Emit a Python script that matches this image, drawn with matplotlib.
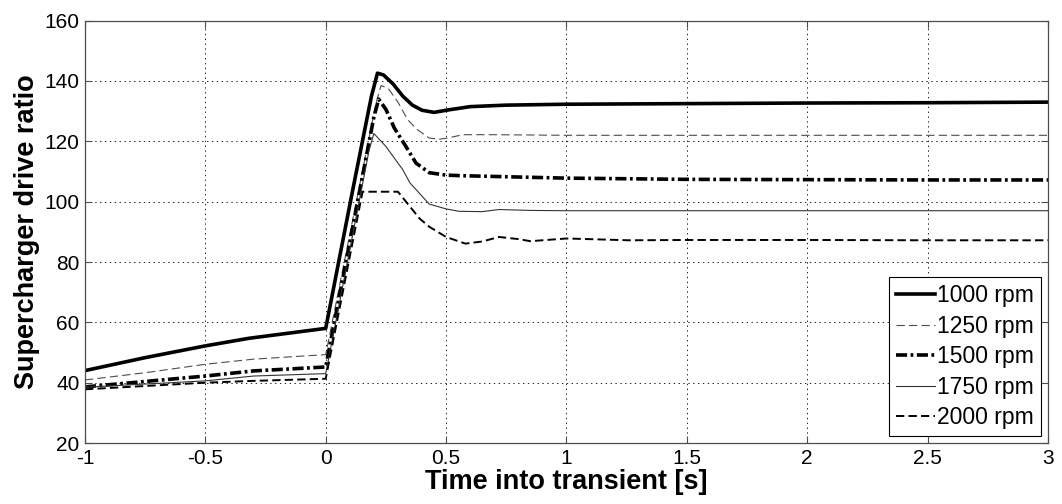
import matplotlib
matplotlib.use('Agg')
import matplotlib.pyplot as plt

# fonts: arial-like, keep plain hyphen minus on the ticks
matplotlib.rcParams['font.family'] = ['Liberation Sans', 'DejaVu Sans']
matplotlib.rcParams['axes.unicode_minus'] = False
matplotlib.rcParams['lines.scale_dashes'] = False

# data (time [s], drive ratio)
t_1000 = [-1, -0.75, -0.5, -0.32, 0, 0.11, 0.19, 0.215, 0.24, 0.28, 0.32, 0.36, 0.4, 0.45, 0.5, 0.6, 0.75, 1.0, 1.5, 2.0, 2.5, 3.0]
r_1000 = [44, 48.3, 52.2, 54.7, 58.0, 103, 135, 142.6, 142, 139, 135, 132, 130.3, 129.6, 130.3, 131.5, 132, 132.3, 132.5, 132.7, 132.8, 133]

t_1250 = [-1, -0.75, -0.5, -0.3, 0, 0.21, 0.23, 0.26, 0.3, 0.34, 0.38, 0.43, 0.47, 0.5, 0.57, 0.7, 1, 1.5, 2, 2.5, 3]
r_1250 = [40.9, 43.3, 46.1, 47.8, 49.3, 133, 138.5, 137.5, 133, 127.2, 123.9, 121.1, 120.7, 121, 122.2, 122.2, 122, 122, 122, 122, 122]

t_1500 = [-1, -0.5, -0.3, 0, 0.2, 0.22, 0.25, 0.285, 0.333, 0.375, 0.43, 0.5, 0.57, 1, 1.5, 2, 2.5, 3]
r_1500 = [38.6, 42.2, 43.9, 45.2, 128, 134, 130.6, 124.4, 118.3, 112.8, 109.6, 108.8, 108.6, 107.8, 107.4, 107.3, 107.2, 107.2]

t_1750 = [-1, -0.5, -0.3, 0, 0.18, 0.2, 0.25, 0.32, 0.35, 0.43, 0.5, 0.555, 0.65, 0.72, 0.85, 1, 1.5, 2, 2.5, 3]
r_1750 = [38.5, 40.6, 42.2, 43, 117, 122.6, 118.3, 110.6, 106.2, 99.2, 97.6, 96.8, 96.7, 97.4, 97.1, 97, 97, 97, 97, 97]

t_2000 = [-1, -0.5, -0.3, 0, 0.153, 0.3, 0.39, 0.43, 0.5, 0.58, 0.65, 0.72, 0.8, 0.85, 1.0, 1.26, 1.5, 2, 2.5, 3]
r_2000 = [37.8, 40.0, 40.6, 41.3, 103.3, 103.3, 94.4, 91.7, 88.3, 86.1, 86.8, 88.3, 87.6, 86.9, 87.8, 87.2, 87.3, 87.3, 87.2, 87.2]

labels = ['1000 rpm', '1250 rpm', '1500 rpm', '1750 rpm', '2000 rpm']
x_ticks = [-1, -0.5, 0, 0.5, 1, 1.5, 2, 2.5, 3]
x_tick_labels = ['-1', '-0.5', '0', '0.5', '1', '1.5', '2', '2.5', '3']
y_ticks = [20, 40, 60, 80, 100, 120, 140, 160]

fig = plt.figure(figsize=(10.62, 5.04), dpi=100)
ax = fig.add_axes([0.080, 0.121, 0.9068, 0.838])

ax.plot(t_1000, r_1000, color='black', lw=2.6, label=labels[0])
ax.plot(t_1250, r_1250, color='0.3', lw=0.8, dashes=(6, 3), label=labels[1])
ax.plot(t_1500, r_1500, color='black', lw=2.6, dashes=(8, 2.5, 2, 2.5), label=labels[2])
ax.plot(t_1750, r_1750, color='0.2', lw=0.8, label=labels[3])
ax.plot(t_2000, r_2000, color='black', lw=1.4, dashes=(6, 3), label=labels[4])

ax.set_xlim(-1, 3)
ax.set_ylim(20, 160)
ax.set_xticks(x_ticks)
ax.set_xticklabels(x_tick_labels)
ax.set_yticks(y_ticks)

# matlab look: dotted grid, ticks inside on every side
ax.grid(True, color='black', linestyle=(0, (1, 2.5)), linewidth=0.6)
ax.tick_params(direction='in', top=True, right=True, length=5, width=0.8,
               labelsize=15, color='0.3', pad=4)
for s in ax.spines.values():
    s.set_color('0.3')
    s.set_linewidth(0.9)

ax.set_xlabel('Time into transient [s]', fontsize=19.5, fontweight='bold', labelpad=1)
ax.set_ylabel('Supercharger drive ratio', fontsize=19.5, fontweight='bold', labelpad=3)

leg = ax.legend(loc='lower right', fontsize=16.5, handlelength=1.7, handletextpad=0.1,
                labelspacing=0.33, borderpad=0.3, borderaxespad=0.3, fancybox=False,
                framealpha=1)
leg.get_frame().set_edgecolor('black')
leg.get_frame().set_linewidth(0.8)

plt.savefig('out.png', dpi=100)
